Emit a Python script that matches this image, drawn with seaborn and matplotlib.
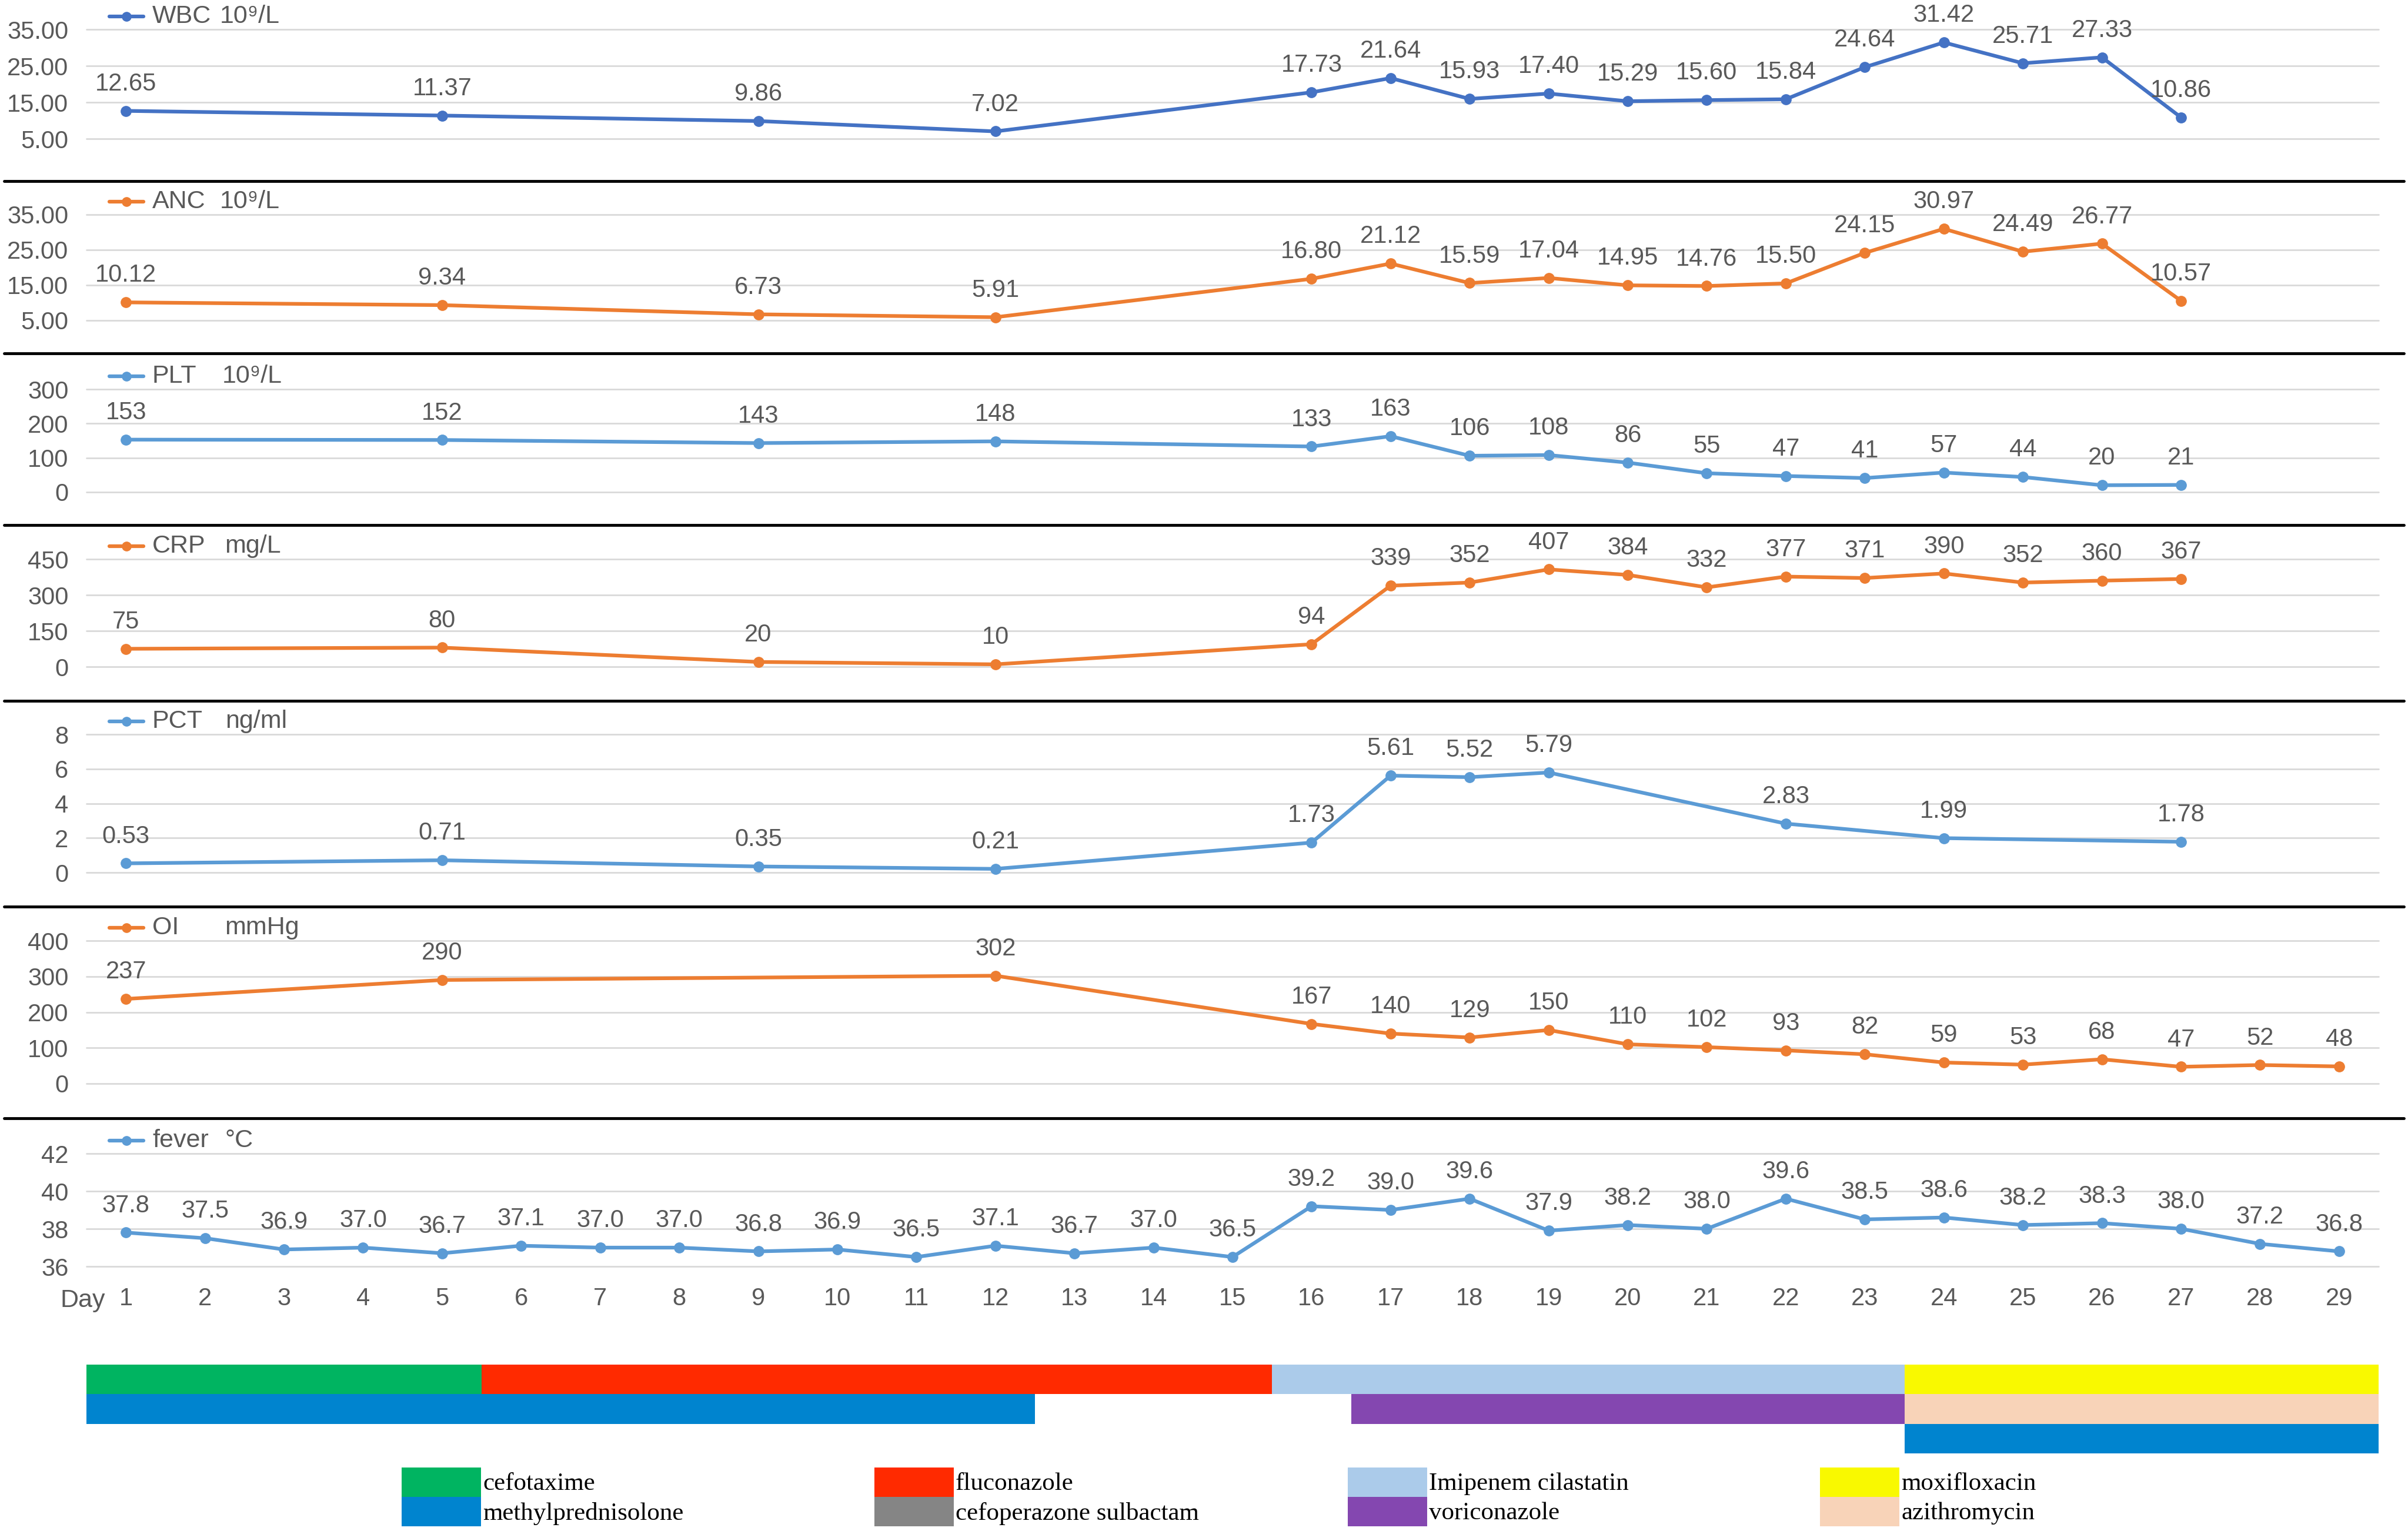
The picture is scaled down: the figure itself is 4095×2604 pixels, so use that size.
import matplotlib
matplotlib.use("Agg")
import matplotlib.pyplot as plt
from matplotlib.lines import Line2D
from matplotlib.patches import Rectangle
import seaborn as sns

W, H = 4095, 2604

# ---- datos ----
lab_days = [1, 5, 9, 12, 16, 17, 18, 19, 20, 21, 22, 23, 24, 25, 26, 27]
wbc = [12.65, 11.37, 9.86, 7.02, 17.73, 21.64, 15.93, 17.40, 15.29, 15.60, 15.84, 24.64, 31.42, 25.71, 27.33, 10.86]
anc = [10.12, 9.34, 6.73, 5.91, 16.80, 21.12, 15.59, 17.04, 14.95, 14.76, 15.50, 24.15, 30.97, 24.49, 26.77, 10.57]
plt_count = [153, 152, 143, 148, 133, 163, 106, 108, 86, 55, 47, 41, 57, 44, 20, 21]
crp = [75, 80, 20, 10, 94, 339, 352, 407, 384, 332, 377, 371, 390, 352, 360, 367]
pct_days = [1, 5, 9, 12, 16, 17, 18, 19, 22, 24, 27]
pct = [0.53, 0.71, 0.35, 0.21, 1.73, 5.61, 5.52, 5.79, 2.83, 1.99, 1.78]
oi_days = [1, 5, 12, 16, 17, 18, 19, 20, 21, 22, 23, 24, 25, 26, 27, 28, 29]
oi = [237, 290, 302, 167, 140, 129, 150, 110, 102, 93, 82, 59, 53, 68, 47, 52, 48]
fever_days = list(range(1, 30))
fever = [37.8, 37.5, 36.9, 37.0, 36.7, 37.1, 37.0, 37.0, 36.8, 36.9, 36.5, 37.1, 36.7, 37.0, 36.5,
         39.2, 39.0, 39.6, 37.9, 38.2, 38.0, 39.6, 38.5, 38.6, 38.2, 38.3, 38.0, 37.2, 36.8]

# tratamientos (fila, día inicio, día fin)
drug_bars = ["cefotaxime", "fluconazole", "Imipenem cilastatin", "moxifloxacin",
             "methylprednisolone", "voriconazole", "azithromycin", "methylprednisolone"]
drug_rows = [0, 0, 0, 0, 1, 1, 1, 2]
drug_start = [1, 6, 16, 24, 1, 17, 24, 24]
drug_end = [5, 15, 23, 29, 12, 23, 29, 29]

legend_cols = [["cefotaxime", "methylprednisolone"],
               ["fluconazole", "cefoperazone sulbactam"],
               ["Imipenem cilastatin", "voriconazole"],
               ["moxifloxacin", "azithromycin"]]

drug_colors = {
    "cefotaxime": "#00B461",
    "methylprednisolone": "#0084CF",
    "fluconazole": "#FF2A00",
    "cefoperazone sulbactam": "#858585",
    "Imipenem cilastatin": "#ABCBEA",
    "voriconazole": "#8447B0",
    "moxifloxacin": "#F9F900",
    "azithromycin": "#F8D3B8",
}

BLUE = "#4472C4"
ORANGE = "#ED7D31"
LBLUE = "#5B9BD5"
GRAY_TXT = "#595959"

# nombre, unidad, x unidad, días, valores, ticks, formato tick, formato etiqueta, color, y top, y bottom (px)
panels = [
    ("WBC", "10⁹/L", 374, lab_days, wbc, [5, 15, 25, 35], "{:.2f}", "{:.2f}", BLUE, 50, 236),
    ("ANC", "10⁹/L", 374, lab_days, anc, [5, 15, 25, 35], "{:.2f}", "{:.2f}", ORANGE, 365, 545),
    ("PLT", "10⁹/L", 378, lab_days, plt_count, [0, 100, 200, 300], "{:.0f}", "{:.0f}", LBLUE, 662, 837),
    ("CRP", "mg/L", 382, lab_days, crp, [0, 150, 300, 450], "{:.0f}", "{:.0f}", ORANGE, 951, 1134),
    ("PCT", "ng/ml", 383, pct_days, pct, [0, 2, 4, 6, 8], "{:.0f}", "{:.2f}", LBLUE, 1249, 1484),
    ("OI", "mmHg", 382, oi_days, oi, [0, 100, 200, 300, 400], "{:.0f}", "{:.0f}", ORANGE, 1600, 1843),
    ("fever", "°C", 382, fever_days, fever, [36, 38, 40, 42], "{:.0f}", "{:.1f}", LBLUE, 1962, 2154),
]
separators = [308, 601, 893, 1192, 1542, 1902]

sns.set_theme(style="white")
plt.rcParams["font.family"] = ["Liberation Sans", "DejaVu Sans"]

fig = plt.figure(figsize=(W / 100, H / 100), dpi=100)

X0, X1 = 147, 4045

def fx(x):
    return x / W

def fy(y):
    return 1 - y / H

for name, unit, ux, days, vals, ticks, tfmt, lfmt, color, ytop, ybot in panels:
    ax = fig.add_axes([fx(X0), fy(ybot), (X1 - X0) / W, (ybot - ytop) / H])
    ax.set_facecolor("none")
    sns.lineplot(x=days, y=vals, ax=ax, color=color, marker="o", markersize=13.5,
                 linewidth=4.5, markeredgewidth=0, clip_on=False, zorder=3)
    for d, v in zip(days, vals):
        ax.annotate(lfmt.format(v), (d, v), xytext=(0, 33), textcoords="offset points",
                    ha="center", va="center", fontsize=30, color=GRAY_TXT, zorder=4)
    ax.set_xlim(0.5, 29.5)
    ax.set_ylim(ticks[0], ticks[-1])
    ax.set_yticks(ticks)
    ax.set_yticklabels([tfmt.format(t) for t in ticks])
    ax.grid(axis="y", color="#D9D9D9", linewidth=2)
    ax.grid(axis="x", visible=False)
    for gl in ax.get_ygridlines():
        gl.set_clip_on(False)
    for s in ax.spines.values():
        s.set_visible(False)
    ax.tick_params(axis="y", length=0, pad=22, labelsize=30, labelcolor=GRAY_TXT)
    if name == "fever":
        ax.set_xticks(fever_days)
        ax.set_xticklabels([str(d) for d in fever_days])
        ax.tick_params(axis="x", length=0, pad=25, labelsize=30, labelcolor=GRAY_TXT)
    else:
        ax.set_xticks([])
    ax.set_xlabel("")
    ax.set_ylabel("")

    # leyenda de cada panel
    ly = ytop - 22
    fig.add_artist(Line2D([fx(186), fx(244)], [fy(ly), fy(ly)], color=color, linewidth=4.5))
    fig.add_artist(Line2D([fx(215)], [fy(ly)], color=color, marker="o", markersize=12,
                          markeredgewidth=0))
    fig.text(fx(259), fy(ly), name, fontsize=31, color=GRAY_TXT, ha="left", va="center")
    fig.text(fx(ux), fy(ly), unit, fontsize=31, color=GRAY_TXT, ha="left", va="center")

fig.text(fx(141), fy(2212), "Day", fontsize=31, color=GRAY_TXT, ha="center", va="center")

for y in separators:
    fig.add_artist(Line2D([fx(7), fx(4088)], [fy(y), fy(y)], color="black", linewidth=3.5))

# barras de tratamiento
axb = fig.add_axes([fx(X0), fy(2472), (X1 - X0) / W, (2472 - 2321) / H])
for drug, row, s, e in zip(drug_bars, drug_rows, drug_start, drug_end):
    axb.barh(row, e - s + 1, left=s - 0.5, height=1.0, color=drug_colors[drug], linewidth=0)
axb.set_xlim(0.5, 29.5)
axb.set_ylim(2.5, -0.5)
axb.axis("off")

# leyenda de tratamientos
sw_x = [683, 1487, 2292, 3095]
sw_y = [2496, 2546]
for col, x in zip(legend_cols, sw_x):
    for drug, y in zip(col, sw_y):
        fig.patches.append(Rectangle((fx(x), fy(y + 50)), 135 / W, 50 / H,
                                     transform=fig.transFigure, color=drug_colors[drug],
                                     linewidth=0))
        fig.text(fx(x + 138), fy(y + 28), drug, fontsize=31, color="black",
                 family=["Liberation Serif", "DejaVu Serif"], ha="left", va="center")

fig.savefig("out.png", dpi=100, facecolor="white")
